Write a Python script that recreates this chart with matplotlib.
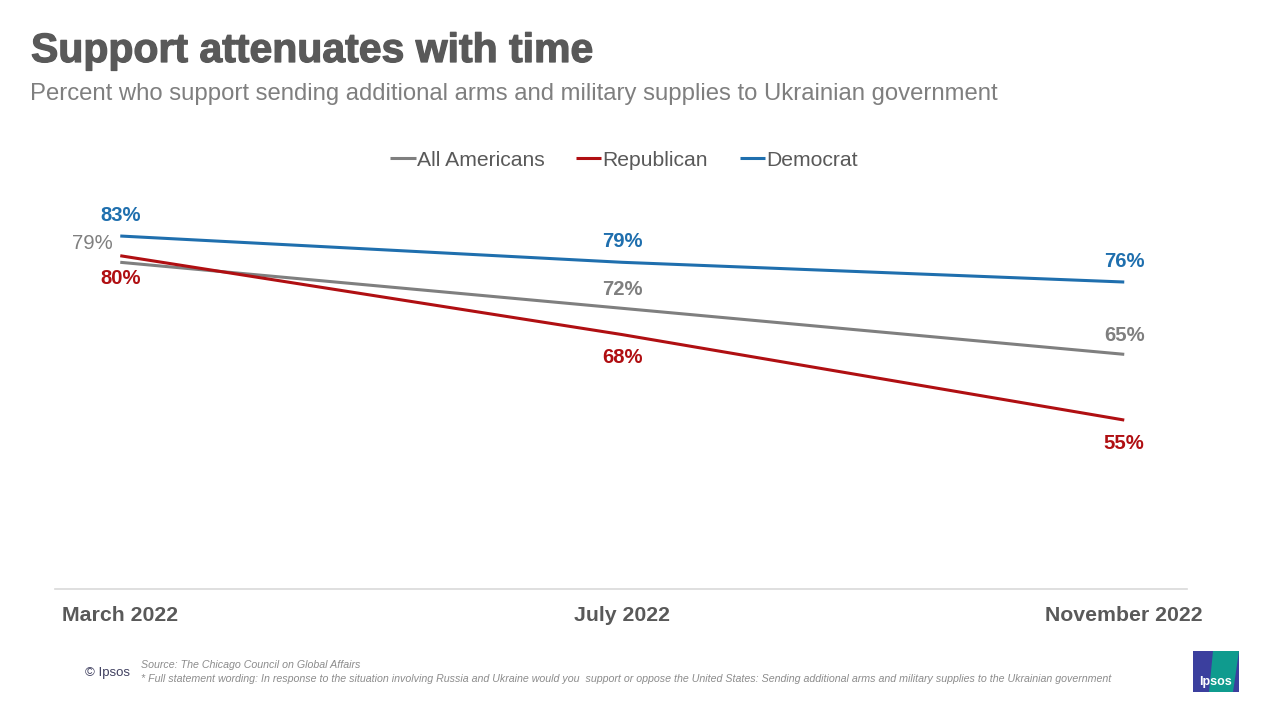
import matplotlib
matplotlib.use("Agg")
import matplotlib.pyplot as plt
from matplotlib.patches import Rectangle, Polygon
import matplotlib.patheffects as pe

plt.rcParams['font.family'] = ['Liberation Sans', 'DejaVu Sans']

periods = ["March 2022", "July 2022", "November 2022"]
all_americans = [79, 72, 65]
republican = [80, 68, 55]
democrat = [83, 79, 76]

series_names = ["All Americans", "Republican", "Democrat"]
colors = {"All Americans": "#7f7f7f", "Republican": "#b00f12", "Democrat": "#1f6fae"}

W, H = 1280, 720
fig = plt.figure(figsize=(12.8, 7.2), dpi=100)
ax = fig.add_axes([55 / W, 1 - 589 / H, (1187 - 55) / W, (589 - 190) / H])

x = list(range(len(periods)))
data = {"All Americans": all_americans, "Republican": republican, "Democrat": democrat}
lines = []
for name in series_names:
    ln, = ax.plot(x, data[name], color=colors[name], lw=2.2, label=name, solid_capstyle='butt')
    lines.append(ln)

ax.set_xlim(-0.13, 2.125)
ax.set_ylim(29.3, 90)

def pt(px):
    return px * 0.72

LFS = 14.6
for i, v in enumerate(democrat):
    ax.annotate(f"{v}%", (i, v), xytext=(0, pt(21)), textcoords="offset points",
                ha="center", va="center", fontsize=LFS, fontweight="bold", color=colors["Democrat"])
for i, v in enumerate(republican):
    ax.annotate(f"{v}%", (i, v), xytext=(0, pt(-23)), textcoords="offset points",
                ha="center", va="center", fontsize=LFS, fontweight="bold", color=colors["Republican"])
for i, v in enumerate(all_americans):
    if i == 0:
        ax.annotate(f"{v}%", (i, v), xytext=(pt(-28), pt(19)), textcoords="offset points",
                    ha="center", va="center", fontsize=LFS, color=colors["All Americans"])
    else:
        ax.annotate(f"{v}%", (i, v), xytext=(0, pt(19)), textcoords="offset points",
                    ha="center", va="center", fontsize=LFS, fontweight="bold", color=colors["All Americans"])

for s in ["top", "left", "right"]:
    ax.spines[s].set_visible(False)
ax.spines["bottom"].set_color("#d9d9d9")
ax.spines["bottom"].set_linewidth(1.2)
ax.set_yticks([])
ax.set_xticks(x)
ax.set_xticklabels(periods, fontsize=15.3, fontweight="bold", color="#595959")
ax.tick_params(axis="x", length=0, pad=12)

# title & subtitle
fig.text(31 / W, 1 - 51 / H, "Support attenuates with time", fontsize=29.5, fontweight="bold",
         color="#595959", ha="left", va="center",
         path_effects=[pe.withStroke(linewidth=0.9, foreground="#595959")])
fig.text(30 / W, 1 - 94 / H, "Percent who support sending additional arms and military supplies to Ukrainian government",
         fontsize=17.2, color="#7f7f7f", ha="left", va="center")

# legend
fig.legend(handles=lines, labels=series_names, loc="center", bbox_to_anchor=(624 / W, 1 - 160 / H),
           ncol=3, frameon=False, fontsize=15.2, handlelength=1.2, handletextpad=0.05,
           columnspacing=1.5, labelcolor="#595959")

# footer
fig.text(85 / W, 1 - 673 / H, "© Ipsos", fontsize=9.5, color="#404060", ha="left", va="center")
fig.text(141 / W, 1 - 665 / H, "Source: The Chicago Council on Global Affairs", fontsize=7.7,
         style="italic", color="#8c8c8c", ha="left", va="center")
fig.text(141 / W, 1 - 679 / H,
         "* Full statement wording: In response to the situation involving Russia and Ukraine would you  support or oppose the United States: Sending additional arms and military supplies to the Ukrainian government",
         fontsize=7.7, style="italic", color="#8c8c8c", ha="left", va="center")

# Ipsos logo
lx0, ly0, lw, lh = 1193, 651, 46, 41
fig.patches.append(Rectangle((lx0 / W, 1 - (ly0 + lh) / H), lw / W, lh / H,
                             transform=fig.transFigure, facecolor="#3b3f9e", edgecolor="none"))
fig.patches.append(Polygon([((lx0 + 20) / W, 1 - ly0 / H), ((lx0 + lw) / W, 1 - ly0 / H),
                            ((lx0 + lw - 6) / W, 1 - (ly0 + lh) / H), ((lx0 + 16) / W, 1 - (ly0 + lh) / H)],
                           closed=True, transform=fig.transFigure, facecolor="#0f9b8e", edgecolor="none"))
fig.text((lx0 + lw / 2) / W, 1 - (ly0 + 31) / H, "Ipsos", fontsize=9, fontweight="bold",
         color="white", ha="center", va="center")

fig.savefig("out.png", dpi=100, facecolor="white")
